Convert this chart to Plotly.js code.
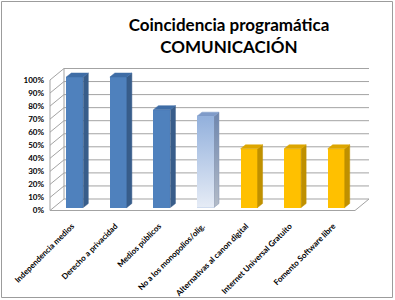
<!DOCTYPE html>
<html><head><meta charset="utf-8">
<script src="https://cdn.plot.ly/plotly-3.0.1.min.js"></script>
<style>html,body{margin:0;padding:0;background:#fff}#chart{width:395px;height:300px}</style>
</head><body><div id="chart"></div>
<script>
// ---- data ----
const categories = ['Independencia medios','Derecho a privacidad','Medios públicos','No a los monopolios/olig.','Alternativas al canon digital','Internet Universal Gratuito','Fomento Software libre'];
const values = [1.00, 1.00, 0.75, 0.70, 0.45, 0.45, 0.45];
const yTickVals = [0,0.1,0.2,0.3,0.4,0.5,0.6,0.7,0.8,0.9,1.0];
const yTickText = ['0%','10%','20%','30%','40%','50%','60%','70%','80%','90%','100%'];

// ---- styles ----
const frontColors = ['#4F81BD','#4F81BD','#4F81BD','#B9CCE8','#FFC000','#FFC000','#FFC000'];
const sideColors  = ['#385D8A','#385D8A','#385D8A','#8496B4','#BF9000','#BF9000','#BF9000'];
const topColors   = ['#3F6DA6','#3F6DA6','#3F6DA6','#7F9BC9','#DDA600','#DDA600','#DDA600'];
const gradientIdx = 3;

// ---- geometry (pixels) ----
const W = 395, H = 300;
const frontLeft = 50, frontRight = 355, zeroY = 210.5, fullY = 80;
const plotLeft = 48, plotRight = 372, plotTop = 67, plotBottom = 213;
const n = categories.length;
const pxX = (frontRight - frontLeft) / n;
const pxY = (zeroY - fullY);
const xRange = [-0.5 - (frontLeft - plotLeft)/pxX, -0.5 + (plotRight - frontLeft)/pxX];
const yRange = [-(plotBottom - zeroY)/pxY, (zeroY - plotTop)/pxY];
const wallDX = 14/pxX, wallDY = 11.5/pxY;
const barOffX = 3/pxX, barOffY = 3/pxY;
const barW = 17/pxX;
const sideDX = 5/pxX, sideDY = 4/pxY;

const idx = categories.map((c,i)=>i);
const traces = [];
// front faces
traces.push({
  type:'bar', x: idx.map(i=>i+barOffX), y: values, base: barOffY, width: barW,
  marker:{color: frontColors, line:{width:0}}, hoverinfo:'skip', showlegend:false
});
function poly(xs, ys, color, extra){
  return Object.assign({type:'scatter', mode:'lines', x: xs.concat([xs[0]]), y: ys.concat([ys[0]]),
    fill:'toself', fillcolor: color, line:{color: color, width:0.5}, hoverinfo:'skip', showlegend:false}, extra||{});
}
idx.forEach(i=>{
  const v = values[i];
  const l = i + barOffX - barW/2, r = i + barOffX + barW/2;
  const b = barOffY, t = barOffY + v;
  const sideExtra = i===gradientIdx ? {fillgradient:{type:'vertical', colorscale:[[0,'#B4BCC8'],[1,'#6E86AE']]}} : {};
  traces.push(poly([r, r, r+sideDX, r+sideDX], [b, t, t+sideDY, b+sideDY], sideColors[i], sideExtra));
  traces.push(poly([l, r, r+sideDX, l+sideDX], [t, t, t+sideDY, t+sideDY], topColors[i]));
  if(i===gradientIdx){
    traces.push(poly([l, r, r, l], [b, b, t, t], frontColors[i],
      {fillgradient:{type:'vertical', colorscale:[[0,'#E6ECF6'],[1,'#92B0DC']]}, line:{width:0, color:'rgba(0,0,0,0)'}}));
  }
});

// walls / grid
const gridColor = '#A3A3A3';
const shapes = [];
function seg(x0,y0,x1,y1,c,w){ shapes.push({type:'line', xref:'x', yref:'y', x0, y0, x1, y1, layer:'below', line:{color:c||gridColor, width:w||1}}); }
yTickVals.forEach(v=>{
  seg(-0.5+wallDX, v+wallDY, n-0.5+wallDX, v+wallDY);
  seg(-0.5, v, -0.5+wallDX, v+wallDY);
});
seg(-0.5+wallDX, wallDY, -0.5+wallDX, 1+wallDY);
seg(-0.5, 0, -0.5, 1);
seg(-0.5, 0, n-0.5, 0);
seg(n-0.5, 0, n-0.5+wallDX, wallDY);
// outer border
const pw = plotRight - plotLeft, ph = plotBottom - plotTop;
shapes.push({type:'rect', xref:'paper', yref:'paper', layer:'above',
  x0:(1.5-plotLeft)/pw, x1:(392.5-plotLeft)/pw, y0:(plotBottom-297.5)/ph, y1:(plotBottom-1.5)/ph,
  line:{color:'#9C9C9C', width:1}});

const tickFont = {family:'Lato, "DejaVu Sans", sans-serif', size:8, color:'#000', weight:'bold'};
const layout = {
  width: W, height: H,
  margin:{l:plotLeft, r:W-plotRight, t:plotTop, b:H-plotBottom, pad:0},
  paper_bgcolor:'#fff', plot_bgcolor:'rgba(0,0,0,0)',
  showlegend:false,
  title:{text:'Coincidencia programática<br>COMUNICACIÓN', x:229/W, xanchor:'center', xref:'container',
    y:1-31/H, yanchor:'top', yref:'container',
    font:{family:'Lato, "Open Sans", sans-serif', size:17, color:'#000', weight:'bold'}},
  xaxis:{type:'linear', range:xRange, showgrid:false, zeroline:false, showline:false,
    tickmode:'array', tickvals:idx, ticktext:categories, tickangle:-45, ticks:'', tickfont:tickFont, ticklabelstandoff:6, fixedrange:true},
  yaxis:{range:yRange, showgrid:false, zeroline:false, showline:false,
    tickmode:'array', tickvals:yTickVals, ticktext:yTickText, ticks:'', tickfont:tickFont, ticklabelstandoff:3, fixedrange:true},
  shapes: shapes,
  bargap:0
};
Plotly.newPlot('chart', traces, layout, {staticPlot:true, displayModeBar:false});
</script></body></html>
